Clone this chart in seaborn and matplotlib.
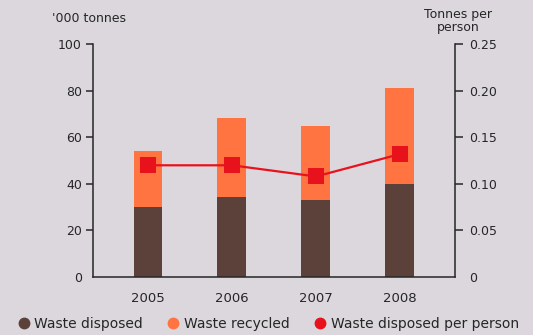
import matplotlib
matplotlib.use("Agg")
import matplotlib.pyplot as plt
from matplotlib.lines import Line2D
import seaborn as sns
import pandas as pd

# Waste data by year
years = ["2005", "2006", "2007", "2008"]
waste_disposed = [30, 34.5, 33, 40]          # '000 tonnes
waste_recycled = [24, 34, 32, 41]            # '000 tonnes
disposed_per_person = [0.120, 0.120, 0.108, 0.132]  # tonnes per person

left_ticks = [0, 20, 40, 60, 80, 100]
right_ticks = [0, 0.05, 0.10, 0.15, 0.20, 0.25]
right_labels = ["0", "0.05", "0.10", "0.15", "0.20", "0.25"]

BG = "#dbd7dd"
BROWN = "#5b4139"
ORANGE = "#ff7440"
RED = "#e8121c"
INK = "#262626"

sns.set_theme(style="white")
plt.rcParams["font.family"] = ["DejaVu Sans"]

df = pd.DataFrame({
    "year": years,
    "disposed": waste_disposed,
    "recycled": waste_recycled,
    "per_person": disposed_per_person,
})
df["total"] = df["disposed"] + df["recycled"]
df["pos"] = range(len(df))

fig = plt.figure(figsize=(5.33, 3.35), dpi=100, facecolor=BG)
ax = fig.add_axes([0.1745, 0.173, 0.679, 0.695])
ax.set_facecolor(BG)

bar_w = 0.345
sns.barplot(data=df, x="year", y="total", color=ORANGE, width=bar_w,
            saturation=1, ax=ax, linewidth=0)
sns.barplot(data=df, x="year", y="disposed", color=BROWN, width=bar_w,
            saturation=1, ax=ax, linewidth=0)

ax.set_ylim(0, 100)
ax.set_xlim(-0.655, 3.655)
ax.set_yticks(left_ticks)
ax.set_yticklabels([str(t) for t in left_ticks])
ax.set_xlabel("")
ax.set_ylabel("")

ax2 = ax.twinx()
sns.lineplot(data=df, x="pos", y="per_person", color=RED, linewidth=1.6,
             marker="s", markersize=11.5, markeredgewidth=0, ax=ax2)
ax2.set_ylim(0, 0.25)
ax2.set_xlim(-0.655, 3.655)
ax2.set_yticks(right_ticks)
ax2.set_yticklabels(right_labels)
ax2.set_xlabel("")
ax2.set_ylabel("")

for a in (ax, ax2):
    for s in a.spines.values():
        s.set_color(INK)
        s.set_linewidth(1.1)
    a.spines["top"].set_visible(False)
ax.spines["right"].set_visible(False)
ax2.spines["left"].set_visible(False)
ax2.spines["bottom"].set_visible(False)

ax.tick_params(axis="y", which="both", left=True, length=5, width=1.1,
               color=INK, labelsize=9, labelcolor=INK, pad=3)
ax.tick_params(axis="x", bottom=False, labelsize=9.5, labelcolor=INK, pad=5)
ax2.tick_params(axis="y", right=True, length=6, width=1.1, color=INK,
                labelsize=9, labelcolor=INK, pad=4)
ax.yaxis.get_major_ticks()[0].tick1line.set_visible(False)
ax2.yaxis.get_major_ticks()[0].tick2line.set_visible(False)

fig.text(0.097, 0.945, "'000 tonnes", fontsize=9, color=INK,
         ha="left", va="center")
fig.text(0.86, 0.938, "Tonnes per\nperson", fontsize=9, color=INK,
         ha="center", va="center", linespacing=0.95)

handles = [
    Line2D([], [], marker="o", linestyle="", color=BROWN, markersize=7.5),
    Line2D([], [], marker="o", linestyle="", color=ORANGE, markersize=7.5),
    Line2D([], [], marker="o", linestyle="", color=RED, markersize=7.5),
]
labels = ["Waste disposed", "Waste recycled", "Waste disposed per person"]
fig.legend(handles, labels, loc="center", bbox_to_anchor=(0.503, 0.034),
           ncol=3, frameon=False, fontsize=10, handletextpad=0.3,
           columnspacing=1.75, handlelength=0.9, labelcolor=INK,
           borderaxespad=0, borderpad=0)

fig.savefig("out.png", dpi=100, facecolor=BG)
